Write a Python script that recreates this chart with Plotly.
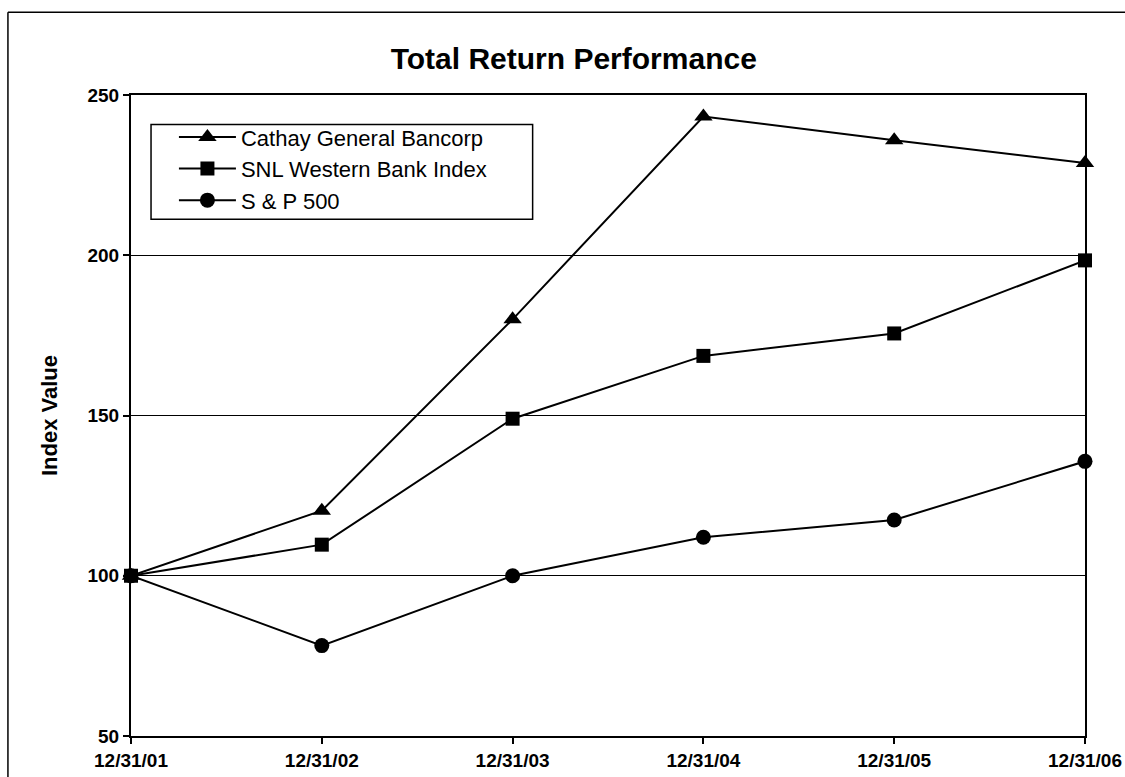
import plotly.graph_objects as go

dates = ["12/31/01", "12/31/02", "12/31/03", "12/31/04", "12/31/05", "12/31/06"]
cathay = [100, 120.3, 180.0, 243.3, 235.9, 228.8]
snl = [100, 109.7, 149.0, 168.6, 175.6, 198.4]
sp500 = [100, 78.2, 100.0, 112.0, 117.4, 135.7]
y_ticks = [50, 100, 150, 200, 250]

FONT = "Liberation Sans, Arial, sans-serif"

fig = go.Figure()
series = [
    ("Cathay General Bancorp", cathay, "triangle-up", 16),
    ("SNL Western Bank Index", snl, "square", 14),
    ("S & P 500", sp500, "circle", 15),
]
for i, (name, vals, sym, sz) in enumerate(series):
    fig.add_trace(go.Scatter(
        x=dates, y=vals, name=name, mode="lines+markers",
        line=dict(color="black", width=2),
        marker=dict(symbol=sym, size=sz, color="black"),
        cliponaxis=False, legendgroup=f"g{i}",
    ))

# outer frame (left and top border of the scanned figure)
fig.add_shape(type="line", xref="paper", yref="paper",
              x0=-0.129, x1=-0.129, y0=1.129, y1=-0.07,
              line=dict(color="black", width=1.5))
fig.add_shape(type="line", xref="paper", yref="paper",
              x0=-0.129, x1=1.06, y0=1.129, y1=1.129,
              line=dict(color="black", width=1.5))
# legend box
fig.add_shape(type="rect", xref="paper", yref="paper",
              x0=0.021, x1=0.421, y0=0.806, y1=0.954,
              line=dict(color="black", width=1.5), fillcolor="white", layer="above")

fig.update_layout(
    width=1125, height=777,
    margin=dict(l=131, r=40, t=95, b=41),
    paper_bgcolor="white", plot_bgcolor="white",
    font=dict(family=FONT, color="black"),
    title=dict(text="<b>Total Return Performance</b>", x=0.51, xref="container",
               y=1 - 58 / 777, yref="container", xanchor="center", yanchor="middle",
               font=dict(size=30, family=FONT, color="black")),
    showlegend=True,
    legend=dict(x=0.045, y=0.967, xanchor="left", yanchor="top",
                borderwidth=0, bgcolor="rgba(0,0,0,0)",
                font=dict(size=22, family=FONT, color="black"),
                tracegroupgap=0, itemwidth=57),
    xaxis=dict(type="category", range=[0, 5], showgrid=False, automargin=False,
               showline=True, linecolor="black", linewidth=2, mirror=True,
               ticks="outside", ticklen=6, tickcolor="black", tickwidth=1.5,
               tickfont=dict(size=19, family=FONT, color="black", weight="bold")),
    yaxis=dict(range=[50, 250], tickvals=y_ticks, showgrid=True, automargin=False,
               gridcolor="black", gridwidth=1.3, zeroline=False,
               showline=True, linecolor="black", linewidth=2, mirror=True,
               ticks="outside", ticklen=6, tickcolor="black", tickwidth=1.5,
               tickfont=dict(size=19, family=FONT, color="black", weight="bold"),
               title=dict(text="<b>Index Value</b>", standoff=24,
                          font=dict(size=22, family=FONT, color="black"))),
)

fig.write_html("out.html", config={"displayModeBar": False},
               post_script="document.body.style.margin='0';")
